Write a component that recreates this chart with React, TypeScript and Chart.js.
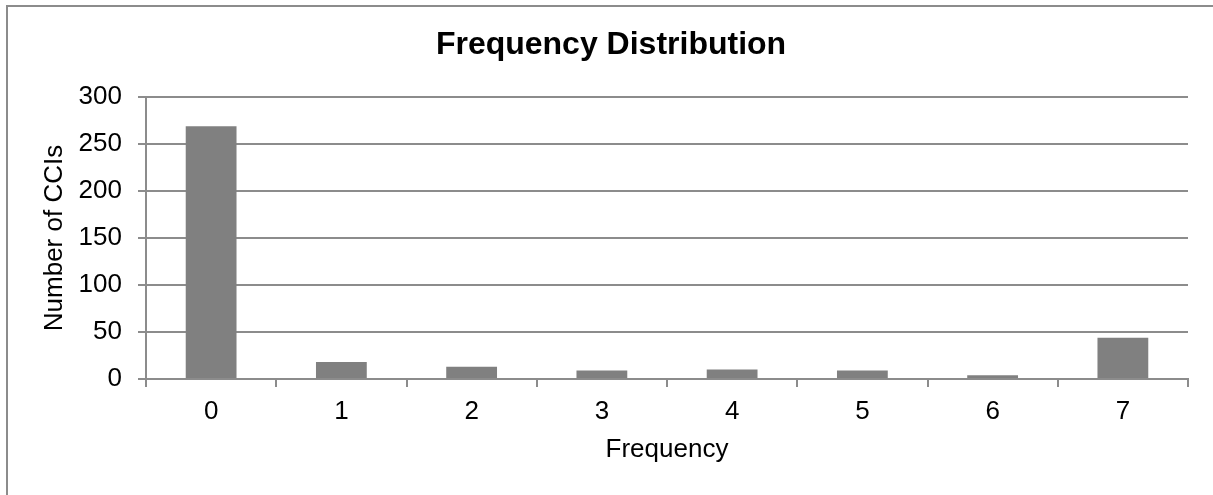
import React, { useEffect, useRef } from "react";
import { Chart, registerables } from "chart.js";

Chart.register(...registerables);

const categories = ["0", "1", "2", "3", "4", "5", "6", "7"];
const counts = [269, 18, 13, 9, 10, 9, 4, 44];
const yTicks = [0, 50, 100, 150, 200, 250, 300];
const chartTitle = "Frequency Distribution";
const xTitle = "Frequency";
const yTitle = "Number of CCIs";

const FONT = "'Liberation Sans', Arial, sans-serif";
const GRID = "#8c8c8c";

export default function App() {
  const ref = useRef<HTMLCanvasElement | null>(null);

  useEffect(() => {
    if (!ref.current) return;
    const chart = new Chart(ref.current, {
      type: "bar",
      data: {
        labels: categories,
        datasets: [
          {
            data: counts,
            backgroundColor: "#808080",
            borderWidth: 0,
            barPercentage: 0.39,
            categoryPercentage: 1,
          },
        ],
      },
      options: {
        animation: false,
        responsive: true,
        maintainAspectRatio: false,
        layout: { padding: { left: 34, right: 25, top: 0, bottom: 30 } },
        plugins: {
          legend: { display: false },
          tooltip: { enabled: false },
          title: {
            display: true,
            text: chartTitle,
            color: "#000",
            font: { family: FONT, size: 32, weight: "bold" },
            padding: { top: 26, bottom: 32.6 },
          },
        },
        scales: {
          x: {
            offset: true,
            grid: {
              offset: true,
              drawOnChartArea: false,
              drawTicks: true,
              tickLength: 8,
              color: GRID,
              lineWidth: 2,
            },
            border: { color: GRID, width: 2 },
            ticks: {
              color: "#000",
              font: { family: FONT, size: 26 },
              padding: 9,
              maxRotation: 0,
            },
            title: {
              display: true,
              text: xTitle,
              color: "#000",
              font: { family: FONT, size: 26 },
              padding: { top: 0, bottom: 0 },
            },
            afterFit: (s: any) => {
              s.height = 86;
            },
          },
          y: {
            min: 0,
            max: 300,
            afterBuildTicks: (s: any) => {
              s.ticks = yTicks.map((v) => ({ value: v }));
            },
            grid: {
              color: GRID,
              lineWidth: 2,
              tickLength: 8,
              drawTicks: true,
            },
            border: { color: GRID, width: 2 },
            ticks: {
              color: "#000",
              font: { family: FONT, size: 26 },
              padding: 16,
            },
            title: {
              display: true,
              text: yTitle,
              color: "#000",
              font: { family: FONT, size: 26 },
              padding: { top: 5, bottom: 0 },
            },
            afterFit: (s: any) => {
              s.width = 112;
            },
          },
        },
      },
    });
    return () => chart.destroy();
  }, []);

  return (
    <div
      style={{
        position: "fixed",
        left: 0,
        top: 0,
        width: 1213,
        height: 495,
        overflow: "hidden",
        background: "#fff",
      }}
    >
      <canvas ref={ref} style={{ position: "absolute", left: 0, top: 0, width: 1213, height: 495 }} />
      <div
        style={{
          position: "absolute",
          left: 6,
          top: 5,
          width: 1400,
          height: 700,
          border: "2px solid #8c8c8c",
          pointerEvents: "none",
        }}
      />
    </div>
  );
}
